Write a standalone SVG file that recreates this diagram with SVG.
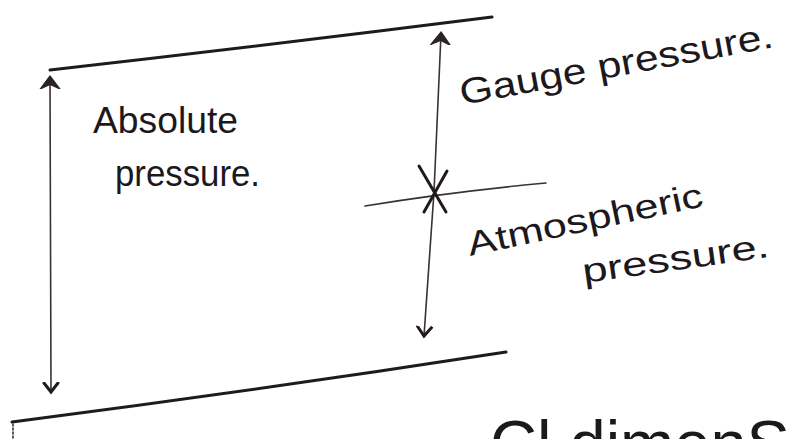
<svg xmlns="http://www.w3.org/2000/svg" width="788" height="439" viewBox="0 0 788 439">
  <style>
    .ln { stroke: #1e1a1e; stroke-width: 3; fill: none; stroke-linecap: round; }
    .thin { stroke: #3a3038; stroke-width: 1.6; fill: none; stroke-linecap: round; }
    .hw { font-family: "Liberation Sans", "DejaVu Sans", sans-serif; fill: #1c181c; }
  </style>
  <defs>
    <marker id="vOpen" viewBox="0 0 20 20" refX="10" refY="10" markerWidth="20" markerHeight="20" markerUnits="userSpaceOnUse" orient="auto-start-reverse">
      <path d="M1 3 L10 10 L1 17" fill="none" stroke="#221c22" stroke-width="3" stroke-linecap="round"/>
    </marker>
    <marker id="vFill" viewBox="0 0 20 20" refX="10" refY="10" markerWidth="22" markerHeight="22" markerUnits="userSpaceOnUse" orient="auto-start-reverse">
      <path d="M0 1 L12 10 L0 19 L4 10 Z" fill="#2a2228" stroke="#2a2228" stroke-width="1"/>
    </marker>
  </defs>

  <g id="levels">
    <path class="ln" d="M50 70 Q270 45 492 17"/>
    <path class="ln" d="M12 422 Q260 390 506 352"/>
    <path class="thin" d="M365 206 Q450 192 546 183"/>
    <path class="thin" d="M13 424 L13 439" stroke-dasharray="2 2"/>
  </g>

  <g id="connectors">
    <line class="thin" x1="50" y1="78" x2="51" y2="392" marker-start="url(#vFill)" marker-end="url(#vOpen)"/>
    <line class="thin" x1="441" y1="34" x2="434" y2="192" marker-start="url(#vFill)"/>
    <line class="thin" x1="434" y1="192" x2="424" y2="336" marker-end="url(#vOpen)"/>
    <g id="cross">
      <line class="ln" x1="419" y1="166" x2="446" y2="212"/>
      <line class="ln" x1="447" y1="171" x2="424" y2="212"/>
    </g>
  </g>

  <g id="absolute">
    <text class="hw" x="93" y="133" font-size="36" textLength="145" lengthAdjust="spacingAndGlyphs">Absolute</text>
    <text class="hw" x="115" y="186" font-size="36" textLength="145" lengthAdjust="spacingAndGlyphs">pressure.</text>
  </g>

  <g id="gauge">
    <text class="hw" x="462" y="105" font-size="36" transform="rotate(-10.5 462 105)" textLength="318" lengthAdjust="spacingAndGlyphs">Gauge  pressure.</text>
  </g>

  <g id="atmospheric">
    <text class="hw" x="470" y="256" font-size="34" transform="rotate(-12 470 256)" textLength="240" lengthAdjust="spacingAndGlyphs">Atmospheric</text>
    <text class="hw" x="584" y="283" font-size="34" transform="rotate(-8 584 283)" textLength="188" lengthAdjust="spacingAndGlyphs">pressure.</text>
  </g>

  <g id="bottom-text">
    <text class="hw" x="490" y="466" font-size="64" textLength="300" lengthAdjust="spacingAndGlyphs">Cl dimenS</text>
  </g>
</svg>
